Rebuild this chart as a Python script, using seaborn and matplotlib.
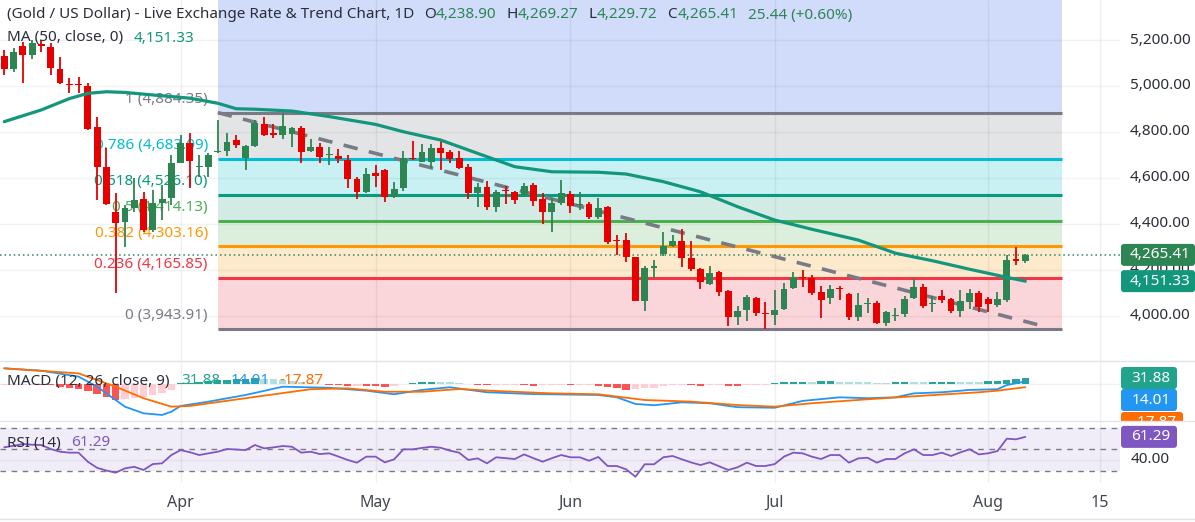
import numpy as np
import pandas as pd
import matplotlib as mpl
mpl.use('Agg')
import matplotlib.pyplot as plt
import matplotlib.transforms as mtransforms
from matplotlib.patches import Rectangle, FancyBboxPatch
from matplotlib.lines import Line2D
import seaborn as sns

sns.set_theme(style='white')
plt.rcParams['font.family'] = ['Noto Sans', 'DejaVu Sans']

# ---- data (bar index 0 = 1 Apr) ----
bars = list(range(-19, 92))
opens = [5130, 5073, 5174, 5135, 5183, 5171, 5073, 5009, 5009, 5001, 4820, 4649, 4453, 4410, 4468, 4509, 4374, 4490, 4512,
         4667, 4751, 4648, 4647, 4713, 4719, 4765, 4686, 4739, 4835, 4794, 4787, 4790, 4816, 4719, 4736, 4701, 4696, 4678, 4596,
         4540, 4620, 4635, 4519, 4555, 4688, 4671, 4671, 4732, 4712, 4688, 4649, 4536, 4562, 4475, 4545, 4538, 4526, 4570, 4509,
         4453, 4490, 4530, 4483, 4487, 4432, 4475, 4329, 4330, 4255, 4067, 4210, 4270, 4304, 4326, 4253, 4206, 4139, 4191, 4109,
         3996, 4026, 4080, 4010, 4004, 4030, 4120, 4171, 4164, 4103, 4077, 4120, 4096, 3997, 4053, 4055, 3971, 4000, 4007, 4077,
         4125, 4053, 4087, 4073, 4023, 4062, 4101, 4075, 4048, 4070, 4247, 4238.90]
highs = [5156, 5164, 5193, 5200, 5200, 5186, 5125, 5033, 5040, 5012, 4864, 4729, 4533, 4483, 4599, 4540, 4548, 4570, 4700,
         4787, 4794, 4700, 4710, 4852, 4794, 4787, 4744, 4852, 4867, 4835, 4884, 4820, 4826, 4770, 4751, 4736, 4726, 4700, 4606,
         4642, 4657, 4638, 4584, 4717, 4761, 4747, 4747, 4768, 4722, 4717, 4661, 4580, 4587, 4548, 4565, 4545, 4577, 4577, 4533,
         4512, 4591, 4543, 4539, 4494, 4513, 4478, 4352, 4360, 4258, 4217, 4243, 4365, 4352, 4378, 4326, 4210, 4217, 4196, 4113,
         4044, 4091, 4084, 4060, 4113, 4142, 4193, 4200, 4178, 4130, 4135, 4130, 4101, 4099, 4077, 4065, 4022, 4033, 4087, 4160,
         4139, 4087, 4113, 4080, 4113, 4116, 4109, 4084, 4106, 4265, 4299, 4269.27]
lows = [5048, 5062, 5014, 5116, 5149, 5048, 5009, 4968, 4971, 4809, 4504, 4483, 4099, 4301, 4453, 4367, 4367, 4417, 4483,
        4664, 4555, 4606, 4606, 4709, 4696, 4729, 4635, 4736, 4783, 4773, 4770, 4736, 4667, 4714, 4665, 4657, 4667, 4555, 4507,
        4536, 4560, 4497, 4512, 4545, 4678, 4668, 4645, 4635, 4667, 4640, 4507, 4475, 4461, 4453, 4486, 4487, 4519, 4480, 4400,
        4367, 4483, 4447, 4461, 4422, 4422, 4312, 4265, 4236, 4065, 4023, 4167, 4261, 4299, 4214, 4196, 4117, 4135, 4087, 3957,
        3961, 3980, 4000, 3942, 3961, 4026, 4116, 4127, 4091, 3993, 4052, 4070, 3983, 3980, 4014, 3965, 3958, 3980, 3997, 4074,
        4036, 4019, 4055, 4012, 3994, 4029, 4019, 4019, 4040, 4062, 4222, 4229.72]
closes = [5074, 5146, 5135, 5186, 5174, 5077, 5014, 5005, 5004, 4812, 4647, 4487, 4403, 4468, 4504, 4374, 4490, 4507, 4664,
          4753, 4675, 4652, 4700, 4717, 4758, 4744, 4739, 4838, 4787, 4787, 4826, 4816, 4714, 4733, 4690, 4705, 4681, 4594, 4540,
          4617, 4609, 4519, 4551, 4688, 4681, 4712, 4732, 4710, 4683, 4645, 4533, 4562, 4475, 4539, 4542, 4504, 4565, 4501, 4453,
          4490, 4533, 4480, 4486, 4429, 4471, 4323, 4326, 4255, 4067, 4210, 4213, 4306, 4326, 4253, 4204, 4149, 4188, 4106, 3996,
          4022, 4084, 4014, 4007, 4026, 4117, 4171, 4164, 4101, 4070, 4117, 4116, 3994, 4047, 4057, 3971, 4017, 4003, 4074, 4125,
          4045, 4057, 4070, 4023, 4065, 4101, 4038, 4053, 4074, 4243, 4240, 4265.41]

ma_bar = [-19, -15, -12, -10, -8, -6, -3, 1, 4, 6, 8, 12, 16, 21, 24, 28, 32, 36, 40, 45, 48, 52, 56, 60, 64, 68, 73, 77,
          81, 85, 89, 91]
ma_val = [4845, 4896, 4945, 4968, 4975, 4972, 4961, 4947, 4925, 4901, 4899, 4891, 4867, 4833, 4801, 4765, 4707, 4649,
          4627, 4625, 4617, 4584, 4540, 4475, 4417, 4377, 4330, 4273, 4240, 4203, 4168, 4151.33]

macd_bar = [-19, -15, -11, -9, -7, -6, -4, -2, -1, 0, 3, 7, 11, 16, 20, 23, 26, 29, 33, 38, 45, 47, 49, 51, 54, 57, 60, 64,
            67, 71, 74, 77, 79, 82, 85, 88, 89, 91]
macd_val = [87, 74, 41, -15, -89, -126, -163, -172, -154, -122, -98, -61, -15, -21, -37, -57, -33, -18, -46, -56, -61, -74,
            -111, -118, -102, -107, -129, -132, -94, -74, -79, -74, -52, -46, -33, -29, -6, 14.01]
sig_bar = [-19, -11, -7, -4, -1, 1, 7, 14, 18, 22, 26, 30, 34, 40, 45, 50, 55, 60, 64, 68, 74, 80, 86, 88, 91]
sig_val = [87, 59, -15, -79, -126, -122, -79, -29, -24, -43, -43, -28, -39, -52, -57, -89, -98, -117, -126, -107, -85, -65,
           -46, -37, -17.87]
hist_val = [-6, -5, -4, -3, -5, -8, -14, -20, -28, -40, -55, -72, -88, -85, -80, -72, -62, -50, -35,
            4, 8, 12, 16, 20, 24, 27, 30, 32, 30, 27, 22, 16, 10, 4,
            -2, -5, -8, -10, -9, -11, -13, -14, -12, 2, 8, 11, 13, 12, 9, 6, 2,
            -5, -8, -7, -6, -5, -8, -10, -7, -6, -5, -7, -6,
            -5, -10, -18, -25, -32, -30, -25, -20, -12, -8, -6,
            -8, -10, -8, -6, -10, -12, -8, -6, -4,
            4, 10, 12, 13, 12, 14, 15, 13, 11, 10, 9, 8, 7, 9, 12, 10, 9, 11, 12, 13, 12, 11, 10, 14, 18, 24, 28, 31.88]
rsi_val = [51.6, 53, 54.6, 54, 53.7, 50, 47.5, 46.6, 46.6, 38.2, 32.5, 30, 28, 32, 33.5, 30.5, 36, 36.7, 44.4,
           49, 47, 44.4, 46, 47.5, 50, 49.5, 49, 53.7, 50.6, 51.5, 52.8, 52.1, 46.6, 47.5, 45.3, 46, 43, 39.8, 37.3,
           42.9, 42.9, 37.6, 40.4, 49.7, 49.7, 51, 52.1, 51.2, 48.5, 46.6, 39.8, 41.3, 36.7, 42.3, 41.5, 40.7, 45, 41.5,
           38.2, 41.5, 44.4, 42.3, 42.3, 39.1, 42.6, 34.2, 34.2, 31.1, 24.2, 35.8, 35.8, 42.3, 43.5, 40.4, 37.5, 35.1,
           37.6, 34, 30.5, 33, 37.3, 34.2, 34.2, 36, 42.9, 46.6, 46, 42.9, 40.7, 44.4, 44.4, 37.3, 41.3, 41.9, 37.3, 40.7,
           40.7, 46, 49.7, 44.4, 44.4, 46.6, 43.5, 46.9, 49.7, 45, 46, 48.1, 59.6, 59, 61.29]

fib_ratio = [1, 0.786, 0.618, 0.5, 0.382, 0.236, 0]
fib_price = [4884.35, 4683.09, 4526.10, 4414.13, 4303.16, 4165.85, 3943.91]
fib_start, fib_end = 4, 95
trend_bar = [4, 93]
trend_val = [4884.35, 3955]
month_bar = [0, 21, 42, 64, 87, 99]
month_lab = ['Apr', 'May', 'Jun', 'Jul', 'Aug', '15']
price_ticks = [5200, 5000, 4800, 4600, 4400, 4200, 4000]

df = pd.DataFrame({'bar': bars, 'open': opens, 'high': highs, 'low': lows, 'close': closes,
                   'hist': hist_val, 'rsi': rsi_val})

# ---- styling ----
W, H = 1195, 522
UP, DOWN = '#2e8554', '#e60000'
TEXT = '#2a2e39'
MA_C = '#12977c'
fib_line = ['#787b86', '#00bcd4', '#089981', '#4caf50', '#ff9800', '#f23645', '#787b86']
fib_fill = ['#d1dcfb', '#e3e4e6', '#c9f0f3', '#d2ebe4', '#dcefdc', '#fde9cc', '#fad5d9']

fig = plt.figure(figsize=(W / 100, H / 100), dpi=100)
fig.patch.set_facecolor('white')


def panel(y0, y1):
    a = fig.add_axes([0, 1 - y1 / H, 1120 / W, (y1 - y0) / H])
    a.set_xlim(-19.46, 101.2)
    a.set_xticks([])
    a.set_yticks([])
    for s in a.spines.values():
        s.set_visible(False)
    a.patch.set_alpha(0)
    for m in month_bar:
        a.axvline(m, color='black', alpha=0.06, lw=1, zorder=0.6)
    return a


# price panel
ax = panel(0, 361)
ax.set_ylim(3804, 5374)
for p in price_ticks:
    ax.axhline(p, color='black', alpha=0.05, lw=1, zorder=0.6)
edges = [5500] + fib_price
for k in range(len(fib_price)):
    ax.fill_between([fib_start, fib_end], edges[k + 1], edges[k], color=fib_fill[k], lw=0, zorder=0.5)
ax.hlines(fib_price, fib_start, fib_end, colors=fib_line, lw=2.2, zorder=2)
for r, p, c in zip(fib_ratio, fib_price, fib_line):
    ax.annotate(f'{r:g} ({p:,.2f})', (fib_start, p), xytext=(-10, 13), textcoords='offset pixels',
                ha='right', va='center', color=c, fontsize=11, zorder=1.5)

ax.plot(trend_bar, trend_val, color='#787b86', lw=2.6, ls=(0, (4, 3.2)), zorder=3, solid_capstyle='butt')

up = df['close'] >= df['open']
cols = np.where(up, UP, DOWN)
body_lo = np.minimum(df['open'], df['close'])
body_h = np.maximum((df['close'] - df['open']).abs(), 5)
ax.vlines(df['bar'], df['low'], df['high'], colors=cols, lw=1.3, zorder=4)
ax.bar(df['bar'], body_h, bottom=body_lo, width=0.74, color=cols, lw=0, zorder=4.1)

ax.axhline(closes[-1], color=UP, lw=1.1, ls=(0, (1, 2)), zorder=3.5)
sns.lineplot(x=ma_bar, y=ma_val, ax=ax, color=MA_C, lw=2.3, zorder=5, legend=False)
ax.set_xlabel('')
ax.set_ylabel('')

# MACD panel
axm = panel(361, 421)
axm.set_ylim(-205.6, 127.8)
axm.axhline(0, color='black', alpha=0.06, lw=1, zorder=0.6)
prev = np.r_[df['hist'].iloc[0], df['hist'].values[:-1]]
hv = df['hist'].values
hcol = np.where(hv >= 0, np.where(hv >= prev, '#26a69a', '#b2dfdb'),
                np.where(hv < prev, '#ff5252', '#ffcdd2'))
axm.bar(df['bar'], hv, width=0.8, color=hcol, lw=0, zorder=2)
sns.lineplot(x=macd_bar, y=macd_val, ax=axm, color='#2196f3', lw=1.3, zorder=3, legend=False)
sns.lineplot(x=sig_bar, y=sig_val, ax=axm, color='#ff6d00', lw=1.3, zorder=3, legend=False)
axm.set_xlabel('')
axm.set_ylabel('')

# RSI panel
axr = panel(421, 483)
axr.set_ylim(18.4, 76.05)
axr.axhspan(30, 70, color='#7e57c2', alpha=0.1, lw=0, zorder=0.5)
axr.axhline(40, color='black', alpha=0.05, lw=1, zorder=0.6)
for lvl in [70, 50, 30]:
    axr.axhline(lvl, color='#787b86', lw=1, ls=(0, (4, 4)), zorder=1)
sns.lineplot(data=df, x='bar', y='rsi', ax=axr, color='#7e57c2', lw=1.3, zorder=3, legend=False)
axr.set_xlabel('')
axr.set_ylabel('')

# month labels
tx = mtransforms.blended_transform_factory(axr.transData, fig.transFigure)
for m, lab in zip(month_bar, month_lab):
    fig.text(m, 1 - 503 / H, lab, transform=tx, ha='center', va='center', fontsize=11.5, color='#434651',
             fontweight='bold')

# right axis labels
tp = mtransforms.blended_transform_factory(fig.transFigure, ax.transData)
for p in price_ticks:
    fig.text(1130 / W, p, f'{p:,.2f}', transform=tp, ha='left', va='center', fontsize=11, color=TEXT, zorder=3)

fig.canvas.draw()


def tag(yc, s, fc, w=74, h=22, z=4.0, clip=None):
    # yc: centre in display pixels (origin bottom)
    box = FancyBboxPatch((1121, yc - h / 2), w, h, boxstyle='round,pad=0,rounding_size=3',
                         transform=mtransforms.IdentityTransform(), fc=fc, ec='none', zorder=z)
    fig.add_artist(box)
    t = fig.text((1121 + w / 2 + 2) / W, yc / H, s, ha='center', va='center', fontsize=11, color='white',
                 zorder=z + 0.01)
    if clip is not None:
        box.set_clip_path(clip)
        t.set_clip_path(clip)


tag(ax.transData.transform((0, closes[-1]))[1], f'{closes[-1]:,.2f}', UP)
tag(ax.transData.transform((0, ma_val[-1]))[1], f'{ma_val[-1]:,.2f}', MA_C, z=4.1)
tag(H - 378, f'{hist_val[-1]:.2f}', '#22a38c', w=56)
tag(H - 400, f'{macd_val[-1]:.2f}', '#2196f3', w=56, z=4.1)
clip_rect = Rectangle((1100, H - 421), 95, 20, transform=mtransforms.IdentityTransform())
tag(H - 423, f'{sig_val[-1]:.2f}', '#ff6d00', w=62, z=4.0, clip=clip_rect)
tag(axr.transData.transform((0, rsi_val[-1]))[1], f'{rsi_val[-1]:.2f}', '#7e57c2', w=56, z=5)
tr = mtransforms.blended_transform_factory(fig.transFigure, axr.transData)
fig.text(1131 / W, 40, '40.00', transform=tr, ha='left', va='center', fontsize=11, color=TEXT, zorder=5)

for yy in [361, 421, 519]:
    fig.add_artist(Line2D([0, 1], [1 - yy / H] * 2, transform=fig.transFigure, color='#e0e3eb', lw=1, zorder=6))

# header legends
renderer = fig.canvas.get_renderer()


def header(y_px, parts, size=11):
    x = 7
    for s, c, g in parts:
        t = fig.text(x / W, 1 - y_px / H, s, color=c, fontsize=size, ha='left', va='center', zorder=10)
        x += t.get_window_extent(renderer).width + g


header(15, [('(Gold / US Dollar) - Live Exchange Rate & Trend Chart, 1D', TEXT, 10),
            ('O', TEXT, 0), (f'{opens[-1]:,.2f}', UP, 10),
            ('H', TEXT, 0), (f'{highs[-1]:,.2f}', UP, 10),
            ('L', TEXT, 0), (f'{lows[-1]:,.2f}', UP, 10),
            ('C', TEXT, 0), (f'{closes[-1]:,.2f}', UP, 10),
            ('25.44 (+0.60%)', UP, 0)])
header(38, [('MA (50, close, 0)', TEXT, 10), (f'{ma_val[-1]:,.2f}', MA_C, 0)])
header(381, [('MACD (12, 26, close, 9)', TEXT, 12), (f'{hist_val[-1]:.2f}', '#22a38c', 10),
             (f'{macd_val[-1]:.2f}', '#2196f3', 10), (f'{sig_val[-1]:.2f}', '#ff6d00', 0)])
header(443, [('RSI (14)', TEXT, 10), (f'{rsi_val[-1]:.2f}', '#7e57c2', 0)])

fig.savefig('out.png', dpi=100)
